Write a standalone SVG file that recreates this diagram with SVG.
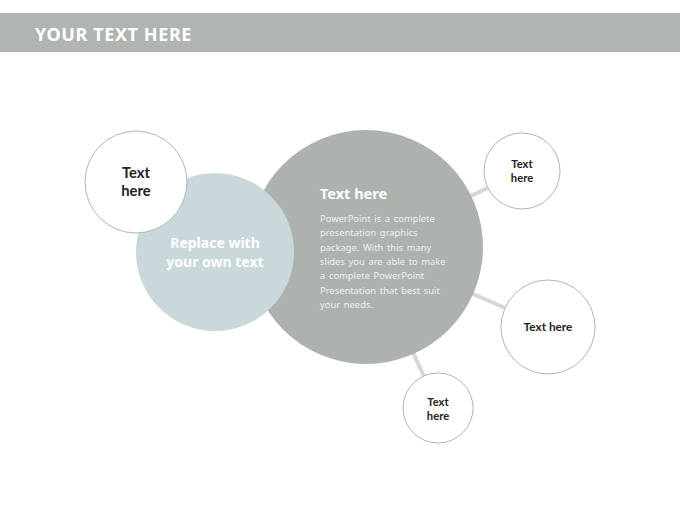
<svg xmlns="http://www.w3.org/2000/svg" width="680" height="510" viewBox="0 0 680 510">
<style>
.t{font-family:"Noto Sans","Liberation Sans",sans-serif}
.d{font-family:Lato,"Liberation Sans",sans-serif;fill:#222;font-weight:bold}
.wc{fill:#fff;stroke:#b4b4b4;stroke-width:1}
.conn{stroke:#d6d8d7;stroke-width:4;fill:none}
.body{fill:#eef0ef;font-size:9.4px;word-spacing:1.2px}
</style>
<rect x="0" y="0" width="680" height="510" fill="#fff"/>
<g id="header">
<rect x="0" y="13" width="680" height="39" fill="#b0b5b2"/>
<text class="t" x="35" y="40.5" font-size="18" font-weight="bold" fill="#fff" letter-spacing="0.6">YOUR TEXT HERE</text>
</g>
<g id="connectors">
<line class="conn" x1="469" y1="197" x2="488" y2="187.6"/>
<line class="conn" x1="471" y1="293" x2="505" y2="308"/>
<line class="conn" x1="412" y1="350" x2="423.7" y2="376"/>
</g>
<g id="main">
<circle cx="366" cy="247" r="117" fill="#adb2af"/>
<text class="t" x="320" y="199" font-size="14.5" font-weight="bold" fill="#fff">Text here</text>
<text class="t body" x="320" y="222">PowerPoint is a complete</text>
<text class="t body" x="320" y="236.3">presentation graphics</text>
<text class="t body" x="320" y="250.6">package. With this many</text>
<text class="t body" x="320" y="264.9">slides you are able to make</text>
<text class="t body" x="320" y="279.2">a complete PowerPoint</text>
<text class="t body" x="320" y="293.5">Presentation that best suit</text>
<text class="t body" x="320" y="307.8">your needs.</text>
</g>
<g id="replace">
<circle cx="215" cy="252" r="79" fill="#c9d8db"/>
<text class="t" x="215" y="248" font-size="14" font-weight="bold" fill="#fff" text-anchor="middle">Replace with</text>
<text class="t" x="215" y="267" font-size="14" font-weight="bold" fill="#fff" text-anchor="middle">your own text</text>
</g>
<g id="node-topleft">
<circle class="wc" cx="136" cy="182" r="51"/>
<text class="d" x="136" y="178" font-size="14.8" text-anchor="middle">Text</text>
<text class="d" x="136" y="196" font-size="14.8" text-anchor="middle">here</text>
</g>
<g id="node-topright">
<circle class="wc" cx="522" cy="171" r="38"/>
<text class="d" x="522" y="167.5" font-size="11.2" text-anchor="middle">Text</text>
<text class="d" x="522" y="181.5" font-size="11.2" text-anchor="middle">here</text>
</g>
<g id="node-right">
<circle class="wc" cx="548" cy="327" r="47"/>
<text class="d" x="548" y="331" font-size="11.8" text-anchor="middle">Text here</text>
</g>
<g id="node-bottom">
<circle class="wc" cx="438" cy="408" r="35"/>
<text class="d" x="438" y="405.5" font-size="11.2" text-anchor="middle">Text</text>
<text class="d" x="438" y="419.5" font-size="11.2" text-anchor="middle">here</text>
</g>
</svg>
